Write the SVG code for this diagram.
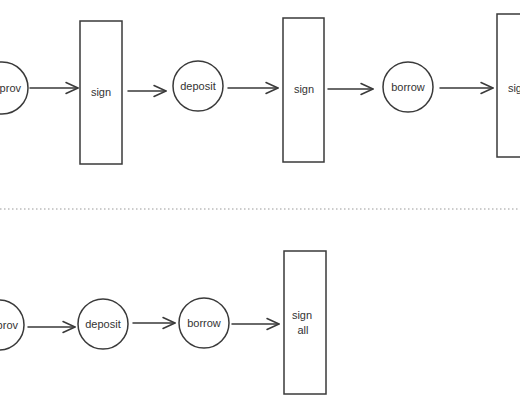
<svg xmlns="http://www.w3.org/2000/svg" width="520" height="400" viewBox="0 0 520 400">
<style>
.n{fill:none;stroke:#3a3a3a;stroke-width:1.5}
.t{font-family:"Liberation Sans",Arial,sans-serif;font-size:11px;fill:#333;text-anchor:middle}
.e{text-anchor:end}
.c{stroke:#3a3a3a;stroke-width:1.5;fill:none;stroke-linecap:round;stroke-linejoin:round}
</style>
<defs>
<marker id="ah" viewBox="0 0 14 14" refX="13" refY="7" markerWidth="14" markerHeight="14" markerUnits="userSpaceOnUse" orient="auto">
<path d="M1 1.5 L13 7 L1 12.5" fill="none" stroke="#3a3a3a" stroke-width="1.5" stroke-linecap="round" stroke-linejoin="round"/>
</marker>
</defs>
<rect width="520" height="400" fill="#fff"/>
<g id="top-approv"><circle class="n" cx="2" cy="88" r="26"/><text class="t e" x="21" y="92">approv</text></g>
<g id="top-sign1"><rect class="n" x="80" y="21" width="42" height="143"/><text class="t" x="101" y="96">sign</text></g>
<g id="top-deposit"><circle class="n" cx="198" cy="86" r="25"/><text class="t" x="198" y="90">deposit</text></g>
<g id="top-sign2"><rect class="n" x="283" y="18" width="41" height="144"/><text class="t" x="304" y="93">sign</text></g>
<g id="top-borrow"><circle class="n" cx="408" cy="87" r="25"/><text class="t" x="408" y="91">borrow</text></g>
<g id="top-sign3"><rect class="n" x="497" y="14" width="42" height="143"/><text class="t" x="518" y="92">sign</text></g>
<line x1="0" y1="209" x2="520" y2="209" stroke="#999" stroke-width="1.2" stroke-dasharray="1.5 2.5"/>
<g id="bot-approv"><circle class="n" cx="-1" cy="325" r="25"/><text class="t e" x="18" y="329">approv</text></g>
<g id="bot-deposit"><circle class="n" cx="103" cy="324" r="25"/><text class="t" x="103" y="328">deposit</text></g>
<g id="bot-borrow"><circle class="n" cx="204" cy="323" r="25"/><text class="t" x="204" y="327">borrow</text></g>
<g id="bot-signall"><rect class="n" x="284" y="251" width="42" height="143"/><text class="t" x="302" y="319">sign</text><text class="t" x="303" y="334">all</text></g>
<g id="connectors">
<line class="c" x1="30" y1="88" x2="78" y2="88" marker-end="url(#ah)"/>
<line class="c" x1="128" y1="91" x2="166" y2="91" marker-end="url(#ah)"/>
<line class="c" x1="228" y1="88" x2="278" y2="88" marker-end="url(#ah)"/>
<line class="c" x1="328" y1="89" x2="373" y2="89" marker-end="url(#ah)"/>
<line class="c" x1="440" y1="88" x2="493" y2="88" marker-end="url(#ah)"/>
<line class="c" x1="28" y1="327" x2="75" y2="327" marker-end="url(#ah)"/>
<line class="c" x1="133" y1="323" x2="175" y2="323" marker-end="url(#ah)"/>
<line class="c" x1="232" y1="324" x2="279" y2="324" marker-end="url(#ah)"/>
</g>
</svg>
